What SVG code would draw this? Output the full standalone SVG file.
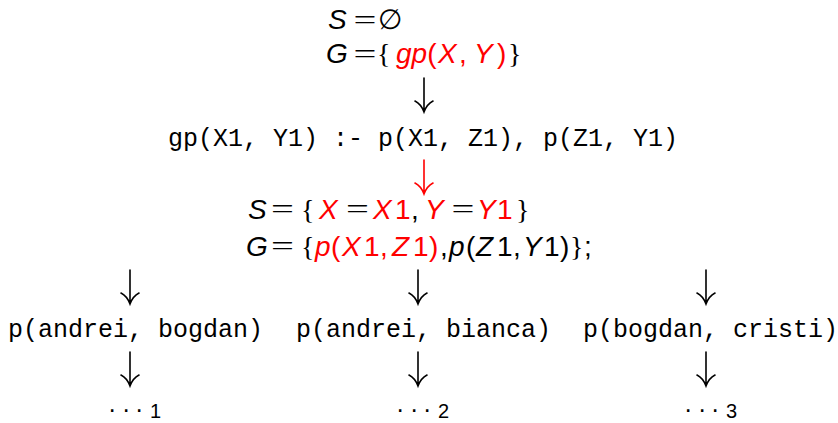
<svg xmlns="http://www.w3.org/2000/svg" width="838" height="423" viewBox="0 0 838 423">
<style>
.m{font-family:"Liberation Sans",Arial,sans-serif;font-size:28px;fill:#000}
.i{font-style:italic}
.r{fill:#ff0000}
.eq{font-family:"Liberation Serif","Times New Roman",serif;font-size:28px;text-anchor:middle;fill:#000}
.br{font-family:"Liberation Serif","Times New Roman",serif}
.tt{font-family:"Liberation Mono","DejaVu Sans Mono",monospace;font-size:25px;fill:#000}
.d{font-family:"Liberation Sans",Arial,sans-serif;font-size:20px;fill:#000}
.dt{font-size:25px}
.a{fill:none;stroke:#000;stroke-width:1.6;stroke-linecap:round}
.ar{stroke:#ff0000}
</style>
<defs>
<path id="arr" d="M0 0 V33 M-9 23 Q-3 26 0 34 Q3 26 9 23"/>
</defs>
<rect width="838" height="423" fill="#fff"/>
<g id="n0">
<text class="m" y="29"><tspan class="i" x="328">S</tspan><tspan x="378">∅</tspan></text>
<text class="eq" transform="translate(365 29) scale(1.45 1)">=</text>
<text class="m" y="63"><tspan class="i" x="326">G</tspan><tspan class="br" x="377">{</tspan><tspan class="i r" x="396">gp</tspan><tspan class="r">(</tspan><tspan class="i r" x="438">X</tspan><tspan class="r" x="459">,</tspan><tspan class="i r" x="474">Y</tspan><tspan class="r" x="497">)</tspan><tspan class="br" x="508">}</tspan></text>
<text class="eq" transform="translate(365 63) scale(1.45 1)">=</text>
</g>
<g id="n1">
<text class="tt" x="168" y="146">gp(X1, Y1) :- p(X1, Z1), p(Z1, Y1)</text>
</g>
<g id="n2">
<text class="m" y="219"><tspan class="i" x="248">S</tspan><tspan class="br" x="301">{</tspan><tspan class="i r" x="319">X</tspan><tspan class="i r" x="373">X</tspan><tspan class="r" x="395">1</tspan><tspan x="411">,</tspan><tspan class="i r" x="425">Y</tspan><tspan class="i r" x="477">Y</tspan><tspan class="r" x="497">1</tspan><tspan class="br" x="516">}</tspan></text>
<text class="eq" transform="translate(282.5 218) scale(1.45 1)">=</text>
<text class="eq r" transform="translate(357.5 218) scale(1.45 1)">=</text>
<text class="eq r" transform="translate(463 218) scale(1.45 1)">=</text>
<text class="m" y="256"><tspan class="i" x="246">G</tspan><tspan class="br" x="301">{</tspan><tspan class="i r" x="315">p</tspan><tspan class="r" x="331">(</tspan><tspan class="i r" x="342">X</tspan><tspan class="r" x="364">1</tspan><tspan class="r" x="380">,</tspan><tspan class="i r" x="392">Z</tspan><tspan class="r" x="413">1</tspan><tspan class="r" x="429">)</tspan><tspan x="440">,</tspan><tspan class="i" x="449">p</tspan><tspan x="466">(</tspan><tspan class="i" x="476">Z</tspan><tspan x="497">1</tspan><tspan x="513">,</tspan><tspan class="i" x="523">Y</tspan><tspan x="544">1</tspan><tspan x="560">)</tspan><tspan class="br" x="570">}</tspan><tspan x="584">;</tspan></text>
<text class="eq" transform="translate(282.5 255) scale(1.45 1)">=</text>
</g>
<g id="n3"><text class="tt" x="8" y="337">p(andrei, bogdan)</text></g>
<g id="n4"><text class="tt" x="296" y="337">p(andrei, bianca)</text></g>
<g id="n5"><text class="tt" x="583" y="337">p(bogdan, cristi)</text></g>
<g id="n6"><text class="d" y="418"><tspan class="dt" x="108">·</tspan><tspan class="dt" x="122">·</tspan><tspan class="dt" x="135">·</tspan><tspan x="150">1</tspan></text></g>
<g id="n7"><text class="d" y="418"><tspan class="dt" x="396">·</tspan><tspan class="dt" x="410">·</tspan><tspan class="dt" x="423">·</tspan><tspan x="438">2</tspan></text></g>
<g id="n8"><text class="d" y="418"><tspan class="dt" x="684">·</tspan><tspan class="dt" x="698">·</tspan><tspan class="dt" x="711">·</tspan><tspan x="726">3</tspan></text></g>
<g id="connectors" class="a">
<use href="#arr" x="424" y="78"/>
<use href="#arr" x="424" y="160" class="ar"/>
<use href="#arr" x="130" y="270"/>
<use href="#arr" x="418" y="270"/>
<use href="#arr" x="706" y="270"/>
<use href="#arr" x="130" y="352"/>
<use href="#arr" x="418" y="352"/>
<use href="#arr" x="706" y="352"/>
</g>
</svg>
